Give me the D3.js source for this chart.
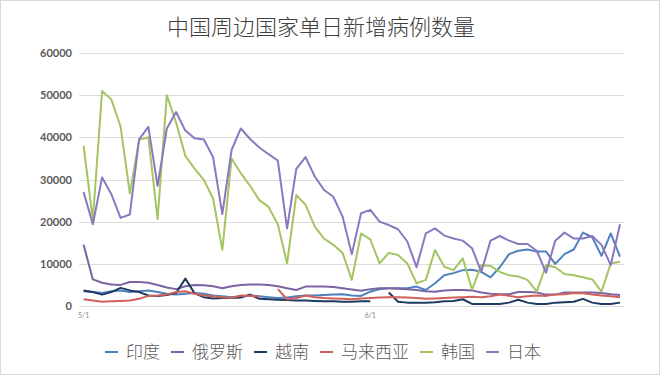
<!DOCTYPE html>
<html>
<head>
<meta charset="utf-8">
<script src="https://cdn.jsdelivr.net/npm/d3@7"></script>
<style>
  body { margin: 0; background: #fff; }
  svg { display: block; }
</style>
</head>
<body>
<svg width="660" height="375"></svg>
<script>
// days 5/1 .. 6/28
const dates = d3.timeDay.range(new Date(2022, 4, 1), new Date(2022, 5, 29)).map(d => (d.getMonth() + 1) + "/" + d.getDate());
const tickLabels = ["5/1", "6/1"];
const yTicks = [0, 10000, 20000, 30000, 40000, 50000, 60000];

const india = [3500, 3300, 3100, 3500, 3700, 3300, 3500, 3700, 3300, 2900, 2700, 2900, 3100, 2900, 2500, 2300, 2100, 2300, 2500, 2300,
  2100, 1900, 2000, 2300, 2500, 2500, 2600, 2700, 2800, 2500, 2400, 3400, 4000, 4200, 4200, 4200, 4600, 3800, 5400, 7300,
  7800, 8500, 8600, 8100, 6800, 9200, 12300, 13100, 13400, 12900, 12900, 10000, 12300, 13400, 17400, 16300, 11900, 17200, 11700];
const russia = [14500, 6300, 5500, 5100, 5000, 5700, 5700, 5500, 5000, 4400, 4000, 4700, 5000, 4900, 4700, 4200, 4700, 5000, 5100, 5100,
  5000, 4700, 4200, 3800, 4600, 4600, 4600, 4500, 4200, 3900, 3600, 4000, 4200, 4200, 4100, 4000, 3800, 3500, 3400, 3700,
  3800, 3800, 3700, 3200, 2900, 2800, 2800, 3300, 3300, 3200, 2700, 2700, 3200, 3200, 3200, 3200, 3100, 2800, 2600];
const vietnam = [3700, 3300, 2700, 3300, 4300, 3700, 3300, 2500, 2400, 2600, 3100, 6500, 3000, 2100, 1800, 1900, 1900, 2000, 2700, 1700,
  1600, 1500, 1400, 1300, 1300, 1200, 1100, 1100, 1000, 1000, 1100, 1100, null, 3200, 1000, 800, 800, 800, 900, 1100,
  1200, 1600, 500, 500, 500, 500, 800, 1500, 800, 500, 500, 800, 900, 1000, 1700, 800, 500, 500, 800];
const malaysia = [1600, 1300, 1000, 1100, 1200, 1300, 1700, 2400, 2500, 2700, 3300, 3500, 2900, 2500, 2300, 2100, 1900, 2500, 2400, 2300,
  null, 4000, 1600, 1900, 2500, 2100, 1900, 1800, 1700, 1600, 1800, 1900, 2000, 2100, 2100, 2000, 1900, 1700, 1800, 1900,
  2000, 2100, 2200, 2100, 2300, 2700, 2400, 2100, 2300, 2500, 2400, 2700, 2800, 3100, 3000, 2700, 2500, 2300, 2100];
const korea = [38000, 20400, 51000, 49000, 42500, 26700, 39400, 40000, 20600, 50000, 43500, 35600, 32600, 29900, 25500, 13300, 35000, 31500, 28500, 25100,
  23500, 19400, 10100, 26300, 24000, 18800, 16000, 14500, 12600, 6200, 17200, 15800, 10100, 12600, 12100, 10100, 5400, 6200, 13300, 9300,
  8500, 11300, 3900, 9700, 9500, 8100, 7300, 7000, 6200, 3400, 9700, 9200, 7600, 7300, 6800, 6300, 3400, 10100, 10500];
const japan = [27000, 19400, 30500, 26500, 20900, 21700, 39500, 42500, 28500, 42100, 46000, 41600, 39800, 39500, 35300, 21800, 37000, 42100, 39600, 37600,
  36000, 34500, 18400, 32500, 35300, 30700, 27500, 25900, 21200, 12300, 22000, 22800, 20000, 19200, 18200, 15300, 9200, 17200, 18400, 16700,
  16000, 15500, 13700, 8100, 15500, 16600, 15500, 14700, 14700, 13100, 7900, 15500, 17400, 16000, 16000, 16600, 14500, 9700, 19400];

const names = ["印度", "俄罗斯", "越南", "马来西亚", "韩国", "日本"];
const colors = ["#4f81bd", "#7a64a2", "#1f3a60", "#d0605c", "#a5c462", "#8a78bf"];
const series = [india, russia, vietnam, malaysia, korea, japan];

const svg = d3.select("svg");

// outer frame
svg.append("rect")
  .attr("x", 0.5).attr("y", 0.5)
  .attr("width", 659).attr("height", 374)
  .attr("fill", "none")
  .attr("stroke", "#d9d9d9");

// title
svg.append("text")
  .attr("x", 321).attr("y", 35)
  .attr("text-anchor", "middle")
  .attr("font-family", "Noto Sans CJK SC")
  .attr("font-weight", 300)
  .attr("font-size", 22)
  .attr("fill", "#404040")
  .text("中国周边国家单日新增病例数量");

var x = d3.scalePoint().domain(d3.range(dates.length)).range([83.6, 620]);
var y = d3.scaleLinear().domain([0, 60000]).range([306, 53]);

// gridlines
svg.append("g")
  .selectAll("line")
  .data(yTicks)
  .enter()
  .append("line")
  .attr("x1", 79).attr("x2", 624)
  .attr("y1", d => Math.round(y(d)) + 0.5)
  .attr("y2", d => Math.round(y(d)) + 0.5)
  .attr("stroke", "#dcdcdc")
  .attr("stroke-width", 1);

// y labels
svg.append("g")
  .selectAll("text")
  .data(yTicks)
  .enter()
  .append("text")
  .attr("x", 72)
  .attr("y", d => y(d) + 4)
  .attr("text-anchor", "end")
  .attr("font-family", "Lato, sans-serif")
  .attr("font-weight", "bold")
  .attr("font-size", 11)
  .attr("fill", "#595959")
  .text(d => d);

// x labels, only month starts
svg.append("g")
  .selectAll("text")
  .data(tickLabels)
  .enter()
  .append("text")
  .attr("x", d => x(dates.indexOf(d)))
  .attr("y", 318)
  .attr("text-anchor", "middle")
  .attr("font-family", "Lato, sans-serif")
  .attr("font-size", 7)
  .attr("fill", "#8c8c8c")
  .text(d => d);

// lines
const line = d3.line()
  .defined(d => d != null)
  .x((d, i) => x(i))
  .y(d => y(d));

svg.append("g")
  .selectAll("path")
  .data(series)
  .enter()
  .append("path")
  .attr("d", d => line(d))
  .attr("fill", "none")
  .attr("stroke", (d, i) => colors[i])
  .attr("stroke-width", 2)
  .attr("stroke-linejoin", "round");

// legend
const legend = svg.append("g");
var lx = 105;
names.forEach((n, i) => {
  legend.append("line")
    .attr("x1", lx).attr("x2", lx + 13)
    .attr("y1", 352).attr("y2", 352)
    .attr("stroke", colors[i])
    .attr("stroke-width", 2);
  var t = legend.append("text")
    .attr("x", lx + 21).attr("y", 358)
    .attr("font-family", "Noto Sans CJK SC")
    .attr("font-weight", 300)
    .attr("font-size", 17)
    .attr("fill", "#595959")
    .text(n);
  lx += 21 + t.node().getComputedTextLength() + 11;
});
</script>
</body>
</html>
